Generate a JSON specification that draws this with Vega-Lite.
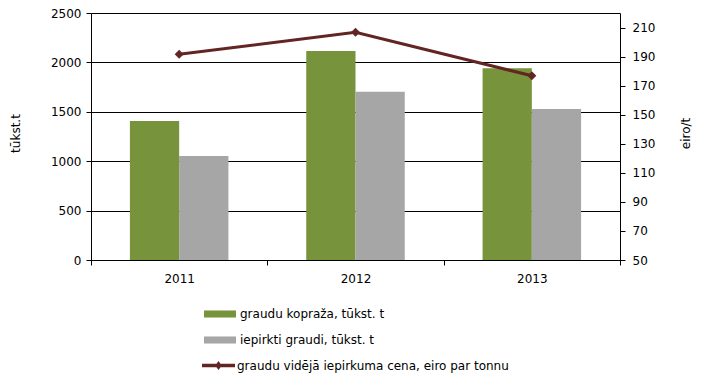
{
  "$schema": "https://vega.github.io/schema/vega-lite/v6.json",
  "width": 529,
  "height": 247,
  "autosize": "none",
  "padding": {"left": 91, "top": 13, "right": 81, "bottom": 120},
  "background": "white",
  "config": {
    "view": {"stroke": null},
    "font": "DejaVu Sans",
    "axis": {
      "labelFont": "DejaVu Sans",
      "labelFontSize": 12,
      "labelColor": "#000000",
      "titleFont": "DejaVu Sans",
      "titleFontSize": 12,
      "titleFontWeight": "normal",
      "titleColor": "#000000",
      "domainColor": "#000000",
      "tickColor": "#000000",
      "gridColor": "#000000",
      "gridOpacity": 1
    },
    "legend": {
      "labelFont": "DejaVu Sans",
      "labelFontSize": 12,
      "labelColor": "#000000",
      "labelLimit": 500,
      "padding": 0
    }
  },
  "datasets": {
    "bars": [
      {"year": "2011", "series": "graudu kopraža, tūkst. t", "value": 1407},
      {"year": "2011", "series": "iepirkti graudi, tūkst. t", "value": 1053},
      {"year": "2012", "series": "graudu kopraža, tūkst. t", "value": 2115},
      {"year": "2012", "series": "iepirkti graudi, tūkst. t", "value": 1703},
      {"year": "2013", "series": "graudu kopraža, tūkst. t", "value": 1940},
      {"year": "2013", "series": "iepirkti graudi, tūkst. t", "value": 1528}
    ],
    "price": [
      {"year": "2011", "series": "graudu vidējā iepirkuma cena, eiro par tonnu", "price": 191.6},
      {"year": "2012", "series": "graudu vidējā iepirkuma cena, eiro par tonnu", "price": 206.7},
      {"year": "2013", "series": "graudu vidējā iepirkuma cena, eiro par tonnu", "price": 176.8}
    ]
  },
  "layer": [
    {
      "data": {"name": "bars"},
      "mark": {"type": "bar"},
      "encoding": {
        "x": {
          "field": "year", "type": "nominal",
          "scale": {"paddingInner": 0, "paddingOuter": 0},
          "axis": {"title": null, "labelAngle": 0, "tickBand": "extent", "tickSize": 5, "labelPadding": 8, "grid": false}
        },
        "xOffset": {
          "field": "series", "type": "nominal",
          "sort": ["graudu kopraža, tūkst. t", "iepirkti graudi, tūkst. t"],
          "scale": {"paddingInner": 0, "paddingOuter": 0.79}
        },
        "y": {
          "field": "value", "type": "quantitative",
          "scale": {"domain": [0, 2500], "nice": false},
          "axis": {
            "values": [0, 500, 1000, 1500, 2000, 2500], "format": "d",
            "grid": true, "tickSize": 5, "labelPadding": 5,
            "title": "tūkst.t", "titleX": -76, "titleY": 120, "titleAngle": 270,
            "titleAlign": "center", "titleBaseline": "middle"
          }
        },
        "color": {
          "field": "series", "type": "nominal",
          "scale": {"domain": ["graudu kopraža, tūkst. t", "iepirkti graudi, tūkst. t"], "range": ["#77933C", "#A6A6A6"]},
          "legend": {
            "title": null, "orient": "none", "legendX": 113, "legendY": 285,
            "direction": "vertical",
            "symbolType": "M-1,-0.22H1V0.22H-1Z", "symbolSize": 1024,
            "symbolStrokeWidth": 0, "rowPadding": 4, "labelOffset": 4
          }
        }
      }
    },
    {
      "data": {"name": "price"},
      "encoding": {
        "x": {"field": "year", "type": "nominal"},
        "y": {
          "field": "price", "type": "quantitative",
          "scale": {"domain": [50, 220], "nice": false, "zero": false},
          "axis": {
            "orient": "right",
            "values": [50, 70, 90, 110, 130, 150, 170, 190, 210],
            "grid": false, "tickSize": 5, "labelPadding": 7,
            "title": "eiro/t", "titleX": 65, "titleY": 120, "titleAngle": 270,
            "titleAlign": "center", "titleBaseline": "middle"
          }
        }
      },
      "layer": [
        {"mark": {"type": "line", "color": "#632523", "strokeWidth": 3}},
        {
          "mark": {"type": "point", "shape": "diamond", "filled": true, "size": 80, "opacity": 1},
          "encoding": {
            "fill": {
              "field": "series", "type": "nominal",
              "scale": {"range": ["#632523"]},
              "legend": {
                "title": null, "orient": "none", "legendX": 111, "legendY": 336,
                "symbolType": "M-1,-0.1H1V0.1H-1Z M0,-0.28L0.2,0L0,0.28L-0.2,0Z",
                "symbolSize": 1089, "symbolStrokeWidth": 0, "labelOffset": 2
              }
            }
          }
        }
      ]
    }
  ],
  "resolve": {"scale": {"y": "independent"}}
}
